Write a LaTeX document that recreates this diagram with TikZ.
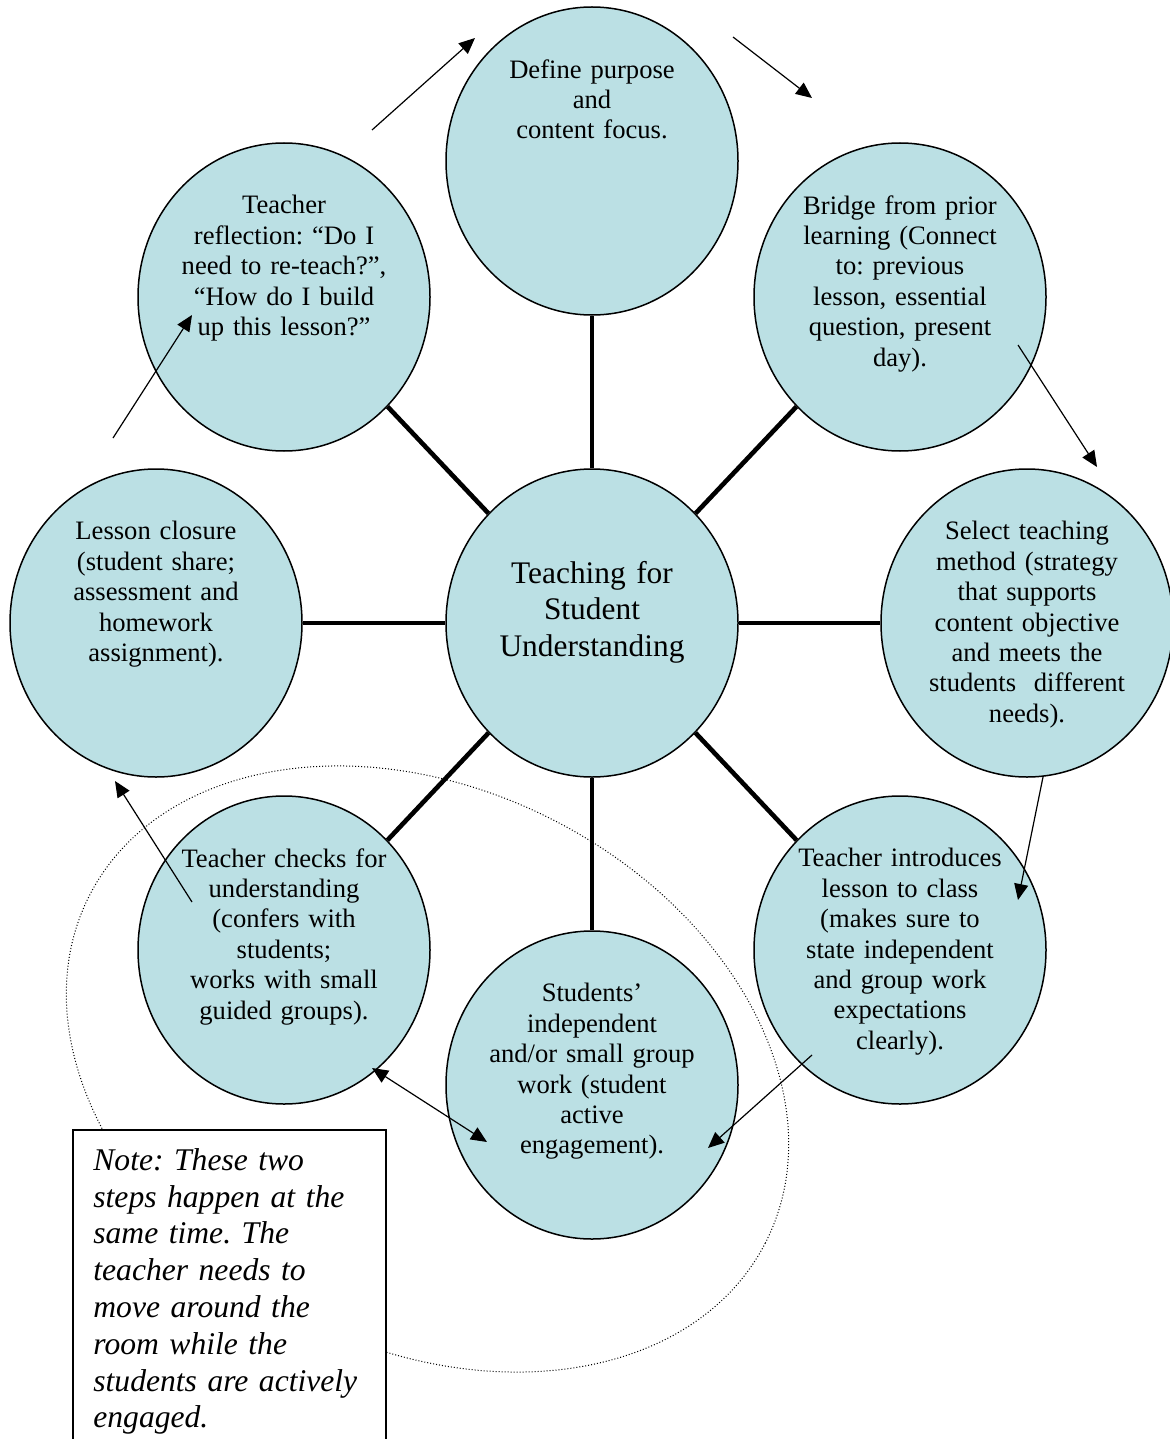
\documentclass[tikz,border=0pt]{standalone}
\usepackage{fontspec}
\setmainfont{Liberation Serif}
\usetikzlibrary{positioning,shapes.geometric,arrows.meta}
\definecolor{stepfill}{RGB}{187,224,228}
\frenchspacing

\begin{document}
\begin{tikzpicture}[x=0.5pt, y=-0.5pt, >={Triangle[length=8pt,width=7pt]},
    stepbox/.style={draw, ellipse, fill=stepfill, line width=0.75pt,
      minimum width=146pt, minimum height=154pt, inner sep=0pt},
    steptext/.style={text width=125pt, align=center, inner sep=0pt,
      font=\fontsize{13.3}{15.2}\selectfont},
    spoke/.style={line width=2.3pt},
    flow/.style={line width=0.6pt}]
  \useasboundingbox (0,0) rectangle (1170,1439);

  % hub and the eight steps round it
  \node[stepbox] (hub) at (592,623) {};
  \node[stepbox] (purpose) at (592,161) {};
  \node[stepbox] (bridge) at (900,297) {};
  \node[stepbox] (method) at (1027,623) {};
  \node[stepbox] (intro) at (900,950) {};
  \node[stepbox] (work) at (592,1085) {};
  \node[stepbox] (checks) at (284,950) {};
  \node[stepbox] (closure) at (156,623) {};
  \node[stepbox] (reflect) at (284,297) {};

  \draw[spoke] (hub) -- (purpose);
  \draw[spoke] (hub) -- (bridge);
  \draw[spoke] (hub) -- (method);
  \draw[spoke] (hub) -- (intro);
  \draw[spoke] (hub) -- (work);
  \draw[spoke] (hub) -- (checks);
  \draw[spoke] (hub) -- (closure);
  \draw[spoke] (hub) -- (reflect);

  % texts hang from the top of each oval
  \node[steptext, font=\fontsize{15.7}{18.3}\selectfont, below=46.2pt of hub.north] (hub-txt)
    {Teaching for\\Student\\Understanding};
  \node[steptext, below=26.4pt of purpose.north] (purpose-txt)
    {Define purpose\\and\\content focus.};
  \node[steptext, below=26.4pt of bridge.north] (bridge-txt)
    {Bridge from prior\\learning (Connect\\to: previous\\lesson, essential\\question, present\\day).};
  \node[steptext, below=26.4pt of method.north] (method-txt)
    {Select teaching\\method (strategy\\that supports\\content objective\\and meets the\\students~ different\\needs).};
  \node[steptext, below=26.4pt of intro.north] (intro-txt)
    {Teacher introduces\\lesson to class\\(makes sure to\\state independent\\and group work\\expectations\\clearly).};
  \node[steptext, below=26.4pt of work.north] (work-txt)
    {Students’\\independent\\and/or small group\\work (student\\active\\engagement).};
  \node[steptext, below=26.4pt of checks.north] (checks-txt)
    {Teacher checks for\\understanding\\(confers with\\students;\\works with small\\guided groups).};
  \node[steptext, below=26.4pt of closure.north] (closure-txt)
    {Lesson closure\\(student share;\\assessment and\\homework\\assignment).};
  \node[steptext, below=26.4pt of reflect.north] (reflect-txt)
    {Teacher\\reflection: “Do I\\need to re-teach?”,\\“How do I build\\up this lesson?”};

  % the cycle arrows
  \coordinate (reflect-out) at (372,130);
  \coordinate (purpose-in) at (475,38);
  \coordinate (purpose-out) at (733,37);
  \coordinate (bridge-in) at (812,98);
  \coordinate (bridge-out) at (1018,345);
  \coordinate (method-in) at (1097,467);
  \coordinate (method-out) at (1043,777);
  \coordinate (intro-in) at (1018,900);
  \coordinate (intro-out) at (812,1055);
  \coordinate (work-in) at (708,1148);
  \coordinate (checks-end) at (372,1068);
  \coordinate (work-end) at (487,1142);
  \coordinate (checks-out) at (192,902);
  \coordinate (closure-in) at (115,781);
  \coordinate (closure-out) at (113,438);
  \coordinate (reflect-in) at (192,315);

  \draw[flow, ->] (reflect-out) -- (purpose-in);
  \draw[flow, ->] (purpose-out) -- (bridge-in);
  \draw[flow, ->] (bridge-out) -- (method-in);
  \draw[flow, ->] (method-out) -- (intro-in);
  \draw[flow, ->] (intro-out) -- (work-in);
  \draw[flow, <->] (checks-end) -- (work-end);
  \draw[flow, ->] (checks-out) -- (closure-in);
  \draw[flow, ->] (closure-out) -- (reflect-in);

  % the two steps that run together
  \node[draw, ellipse, rotate=-27.3, line width=0.5pt, dash pattern=on 0.5pt off 1pt,
    minimum width=380pt, minimum height=279pt, inner sep=0pt] (pair) at (427.5,1069) {};

  \node[draw, fill=white, line width=0.8pt, anchor=north west,
    minimum width=156.5pt, minimum height=170pt] (note) at (72,1129) {};
  \node[text width=150pt, align=left, inner sep=0pt,
    font=\fontsize{15.8}{18.4}\selectfont\itshape,
    below right=9.5pt and 10.5pt of note.north west] (note-txt)
    {Note: These two\\steps happen at the\\same time. The\\teacher needs to\\move around the\\room while the\\students are actively\\engaged.};
\end{tikzpicture}
\end{document}
